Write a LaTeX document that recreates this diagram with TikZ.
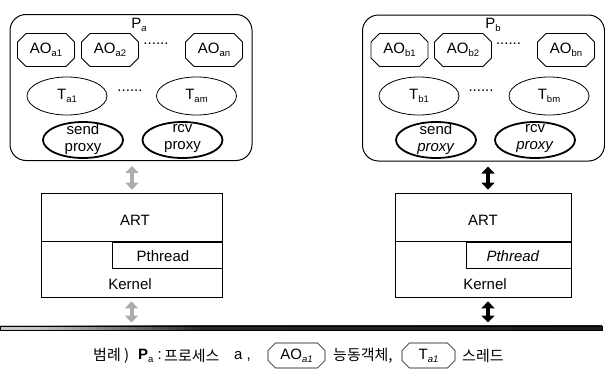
\documentclass[tikz,border=0pt]{standalone}
\usepackage{fontspec}
\setmainfont{Liberation Sans}
\newfontfamily\krfont{Noto Sans CJK KR}
\usetikzlibrary{shapes.misc,shapes.geometric,arrows.meta}
\newcommand{\sbx}[1]{\raisebox{-0.35ex}{\fontsize{9.5}{9.5}\selectfont #1}}
\pgfdeclarehorizontalshading{busshade}{100bp}{color(0bp)=(gray!25); color(28bp)=(gray!45); color(42bp)=(black!85); color(90bp)=(black!90); color(93bp)=(gray!35); color(100bp)=(gray!35)}
\begin{document}
\begin{tikzpicture}[x=1pt,y=-1pt,
  every node/.style={font=\fontsize{15}{18}\selectfont, inner sep=0pt},
  proc/.style={draw, line width=1pt, rounded corners=16pt, minimum width=242pt, minimum height=146pt},
  ao/.style={draw, line width=0.8pt, chamfered rectangle, chamfered rectangle xsep=5pt, minimum width=57pt, minimum height=33pt},
  thr/.style={draw, line width=0.8pt, ellipse, minimum width=80pt, minimum height=38pt},
  proxy/.style={draw, line width=1.8pt, ellipse, minimum width=80pt, minimum height=36pt},
  osbox/.style={draw, line width=0.7pt, rectangle},
  dots/.style={anchor=base, text height=1.5pt, text depth=0pt},
  biarrow/.style={line width=4pt, {Triangle[width=13pt,length=7pt]}-{Triangle[width=13pt,length=7pt]}},
  lgbox/.style={draw, line width=0.6pt, chamfered rectangle, chamfered rectangle xsep=4pt, minimum height=25pt},
  kr/.style={font=\fontsize{15}{18}\selectfont\krfont}
]
\useasboundingbox (0,0) rectangle (605,372);

% ---------- process a ----------
\node[proc] (pa) at (131,87.5) {};
\node (pal) at (139,25) {P\sbx{\textit{a}}};
\node[ao] (aoa1) at (46,50) {AO\sbx{a1}};
\node[ao] (aoa2) at (110,50) {AO\sbx{a2}};
\node[dots] (da1) at (156,44.5) {......};
\node[ao] (aoan) at (214,50) {AO\sbx{an}};
\node[thr] (ta1) at (67,96) {T\sbx{a1}};
\node[dots] (da2) at (130,91.5) {......};
\node[thr] (tam) at (196.5,96) {T\sbx{am}};
\node[proxy] (spa) at (83,140) {};
\node[align=center] (spat) at (83,139) {send\\[-1pt]proxy};
\node[proxy] (rpa) at (182.5,140) {};
\node[align=center] (rpat) at (182.5,139) {rcv\\[-1pt]proxy};

% ---------- process b ----------
\node[proc] (pb) at (483.5,88) {};
\node (pbl) at (493,25) {P\sbx{b}};
\node[ao] (aob1) at (399.5,50) {AO\sbx{b1}};
\node[ao] (aob2) at (463,50) {AO\sbx{b2}};
\node[dots] (db1) at (508.5,44.5) {......};
\node[ao] (aobn) at (566,50) {AO\sbx{bn}};
\node[thr] (tb1) at (419,96) {T\sbx{b1}};
\node[dots] (db2) at (481,91.5) {......};
\node[thr] (tbm) at (549,96) {T\sbx{bm}};
\node[proxy] (spb) at (436,140) {};
\node[align=center] (spbt) at (436,139) {send\\[-1pt]\textit{proxy}};
\node[proxy] (rpb) at (535,140) {};
\node[align=center] (rpbt) at (535,139) {rcv\\[-1pt]\textit{proxy}};

% ---------- ART / Kernel a ----------
\node[osbox, minimum width=181pt, minimum height=104pt] (arta) at (131.5,245) {};
\draw[line width=0.7pt] ([yshift=-49pt]arta.north west) -- ([yshift=-49pt]arta.north east);
\node[osbox, anchor=north east, minimum width=110pt, minimum height=26pt] (ptha) at ([yshift=-49pt]arta.north east) {};
\node (artal) at (135,220) {ART};
\node (pthal) at (163,256) {Pthread};
\node (kera) at (130,284) {Kernel};

% ---------- ART / Kernel b ----------
\node[osbox, minimum width=176pt, minimum height=104pt] (artb) at (483,245) {};
\draw[line width=0.7pt] ([yshift=-49pt]artb.north west) -- ([yshift=-49pt]artb.north east);
\node[osbox, anchor=north east, minimum width=105pt, minimum height=26pt] (pthb) at ([yshift=-49pt]artb.north east) {};
\node (artbl) at (483,220) {ART};
\node (pthbl) at (513,256) {\textit{Pthread}};
\node (kerb) at (485,284) {Kernel};

% ---------- bus ----------
\node[draw, line width=0.5pt, shade, shading=busshade, minimum width=602pt, minimum height=4.5pt] (bus) at (301,328) {};

% ---------- arrows ----------
\draw[biarrow, gray!65, shorten <=5pt, shorten >=3pt] ([xshift=1pt]pa.south) -- ([xshift=0.5pt]arta.north);
\draw[biarrow, gray!65, shorten <=4pt, shorten >=3pt] (arta.south) -- (arta.south |- bus.north);
\draw[biarrow, black, shorten <=5pt, shorten >=3pt] ([xshift=4.5pt]pb.south) -- ([xshift=5pt]artb.north);
\draw[biarrow, black, shorten <=4pt, shorten >=3pt] ([xshift=5pt]artb.south) -- ([xshift=5pt]artb.south |- bus.north);

% ---------- legend ----------
\node[kr, anchor=west] (lg0) at (93,356) {범례 )};
\node[anchor=west] (lg1) at (138,356) {\textbf{P}\sbx{a} :};
\node[kr, anchor=west] (lg1k) at (164,356) {프로세스};
\node[anchor=west] (lg1a) at (234,356) {a ,};
\node[lgbox, minimum width=57pt] (lgao) at (296.5,355.5) {AO\sbx{\textit{a1}}};
\node[kr, anchor=west] (lg2) at (333,356) {능동객체,};
\node[lgbox, minimum width=53pt] (lgt) at (428.5,355.5) {T\sbx{\textit{a1}}};
\node[kr, anchor=west] (lg3) at (462,356) {스레드};
\end{tikzpicture}
\end{document}
